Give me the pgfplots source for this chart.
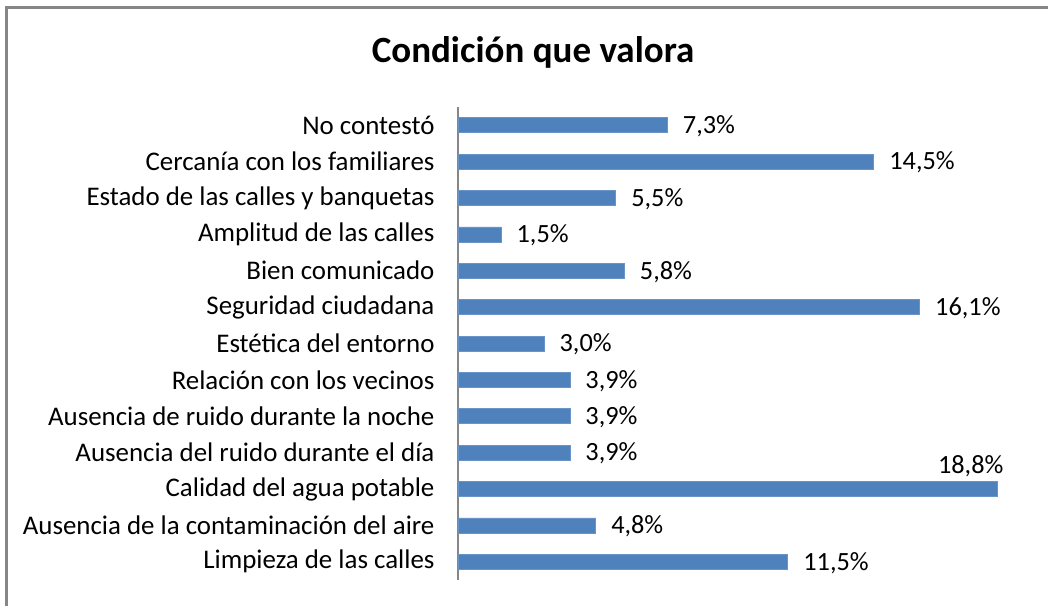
\documentclass[border=0pt]{standalone}
\usepackage{pgfplots}
\pgfplotsset{compat=1.18}
\usepackage{fontspec}
\setmainfont{Carlito}
\definecolor{barblue}{HTML}{4F81BD}
\definecolor{framegray}{HTML}{868686}
\begin{document}
\begin{tikzpicture}[x=1pt,y=1pt]
\path[use as bounding box] (0,0) rectangle (1048,606);
\draw[framegray, line width=2.2pt] (6.5,0) -- (6.5,598.5) -- (1048,598.5);
\node[font=\fontsize{37}{42}\selectfont\bfseries, anchor=base] at (533,543) {Condición que valora};
\begin{axis}[
  at={(458pt,26pt)}, anchor=south west,
  scale only axis, width=539pt, height=473pt,
  xbar, bar shift=0pt, bar width=15pt,
  xmin=0, xmax=18.8, ymin=-0.5, ymax=12.5,
  axis x line=none,
  axis y line*=left,
  y axis line style={framegray, line width=1.5pt, -},
  ytick={0,...,12},
  yticklabels={Limpieza de las calles, Ausencia de la contaminación del aire, Calidad del agua potable, Ausencia del ruido durante el día, Ausencia de ruido durante la noche, Relación con los vecinos, Estética del entorno, Seguridad ciudadana, Bien comunicado, Amplitud de las calles, Estado de las calles y banquetas, Cercanía con los familiares, No contestó},
  major tick length=0pt,
  yticklabel style={font=\fontsize{26.9}{30}\selectfont, xshift=-20pt},
  /pgf/number format/assume math mode=true,
  clip=false,
  nodes near coords={\pgfmathprintnumber[fixed,fixed zerofill,precision=1,use comma]{\pgfplotspointmeta}\%},
  every node near coord/.append style={font=\fontsize{26.3}{30}\selectfont, anchor=west, xshift=12pt, yshift=-1pt, black},
]
\addplot[fill=barblue, draw=barblue!85!white, line width=0.6pt] coordinates {
(11.5,0) (4.8,1) (3.9,3) (3.9,4) (3.9,5) (3.0,6) (16.1,7) (5.8,8) (1.5,9) (5.5,10) (14.5,11) (7.3,12)};
\addplot[fill=barblue, draw=barblue!85!white, line width=0.6pt,
  every node near coord/.append style={anchor=south east, xshift=-2pt, yshift=10pt}] coordinates {(18.8,2)};
\end{axis}
\end{tikzpicture}
\end{document}
